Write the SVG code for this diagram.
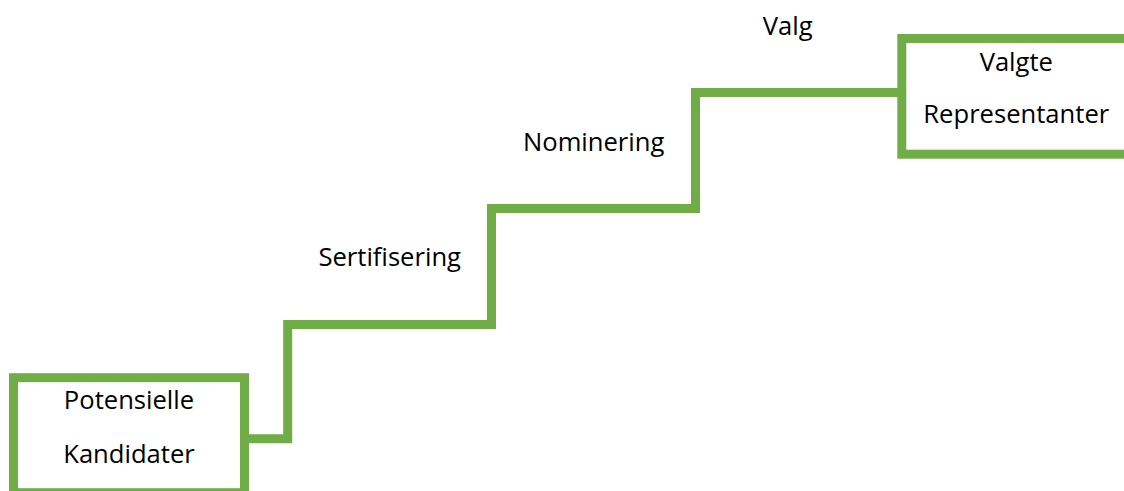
<svg xmlns="http://www.w3.org/2000/svg" width="1124" height="491" viewBox="0 0 1124 491">
<style>
.box{fill:#fff;stroke:#70AD47;stroke-width:9}
.conn{fill:none;stroke:#70AD47;stroke-width:9;stroke-linejoin:miter;stroke-linecap:butt}
text{font-family:"Open Sans",Lato,sans-serif;font-size:25.6px;fill:#000;text-anchor:middle}
</style>
<rect width="1124" height="491" fill="#fff"/>
<g id="connectors">
<path class="conn" d="M244.5 438.7 H287.7 V324.5 H491.5 V208.5 H695.5 V92.5 H901.8"/>
</g>
<g id="potensielle-kandidater">
<rect class="box" x="13.5" y="377.7" width="231" height="115"/>
<text x="129" y="409.3">Potensielle</text>
<text x="129" y="463.3">Kandidater</text>
</g>
<g id="valgte-representanter">
<rect class="box" x="901.8" y="38.5" width="240" height="115.7"/>
<text x="1016.3" y="70.7">Valgte</text>
<text x="1016.3" y="123.3">Representanter</text>
</g>
<g id="labels">
<text x="389.7" y="265.7">Sertifisering</text>
<text x="593.7" y="150.7">Nominering</text>
<text x="787.7" y="34.5">Valg</text>
</g>
</svg>
